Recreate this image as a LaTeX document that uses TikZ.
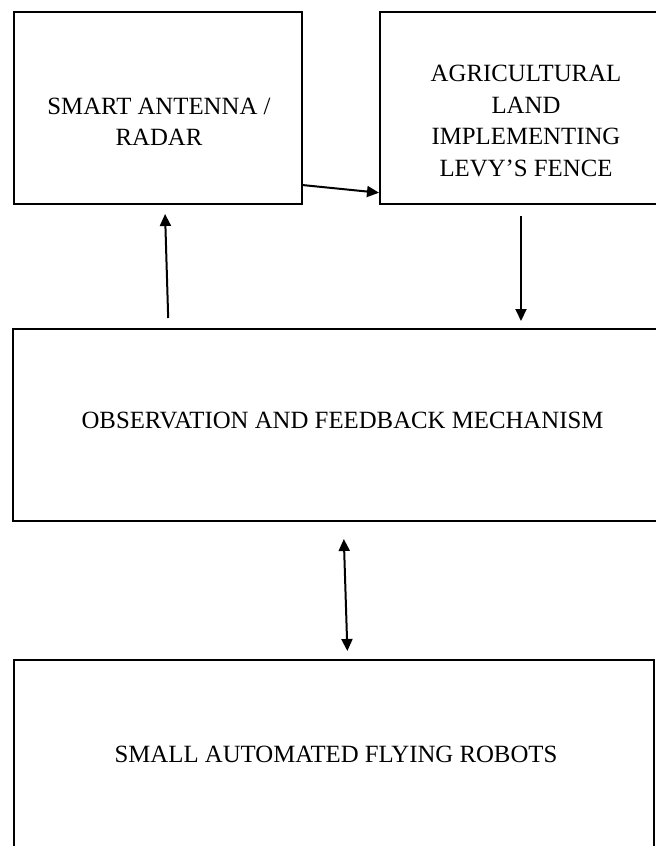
\documentclass[tikz,border=0pt]{standalone}
\usepackage{fontspec}
\setmainfont{Liberation Serif}
\usetikzlibrary{arrows.meta,calc}

\tikzset{
    blk/.style={draw, line width=1pt, inner sep=0pt},
    lbl/.style={align=center, font=\fontsize{12.4}{15.75}\selectfont},
    arr/.style={line width=1pt, -{Triangle[length=6pt,width=5.5pt]}},
    dbl/.style={line width=1pt, {Triangle[length=6pt,width=5.5pt]}-{Triangle[length=6pt,width=5.5pt]}},
}

\begin{document}
\begin{tikzpicture}[x=0.5pt,y=-0.5pt]

\clip (0,0) rectangle (656,846);

\node[blk, minimum width=144pt, minimum height=96pt] (radar) at (158,108) {};
\node[blk, minimum width=140pt, minimum height=96pt] (land) at (520,108) {};
\node[blk, minimum width=323.5pt, minimum height=96pt] (obs) at (336.5,425) {};
\node[blk, minimum width=320pt, minimum height=96pt] (robots) at (334,756) {};

\node[lbl] (radartxt) at ($(radar.center)+(1,14)$) {SMART ANTENNA /\\RADAR};
\node[lbl] (landtxt) at ($(land.center)+(6,13)$) {AGRICULTURAL\\LAND\\IMPLEMENTING\\LEVY’S FENCE};
\node[lbl] (obstxt) at ($(obs.center)+(6,-5)$) {OBSERVATION AND FEEDBACK MECHANISM};
\node[lbl] (robotstxt) at ($(robots.center)+(2,-2)$) {SMALL AUTOMATED FLYING ROBOTS};

\coordinate (landout) at ($(land.south)+(1,0)$);

\draw[arr] (radar.-28.1) -- (land.-149.6);
\draw[arr, shorten <=5pt, shorten >=4.5pt] (obs.150.3) -- (radar.-86.4);
\draw[arr, shorten <=5.5pt, shorten >=3.5pt] (landout) -- (landout |- obs.north);
\draw[dbl, shorten <=8.5pt, shorten >=4pt] (obs.-86.7) -- (robots.82.3);

\end{tikzpicture}
\end{document}
